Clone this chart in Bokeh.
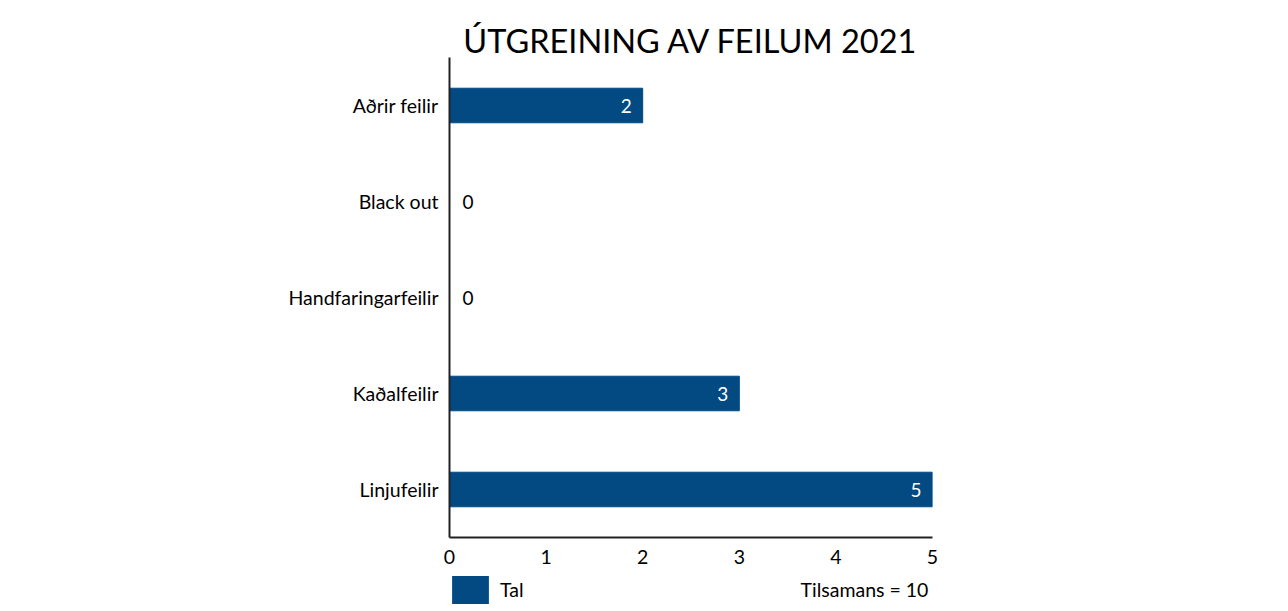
from bokeh.plotting import figure
from bokeh.layouts import column
from bokeh.models import (ColumnDataSource, FactorRange, Range1d, FixedTicker, LabelSet,
                          Legend, LegendItem)
from bokeh.core.properties import value
from bokeh.embed import file_html
from bokeh.resources import INLINE

# ---- data ----
categories = ["Aðrir feilir", "Black out", "Handfaringarfeilir", "Kaðalfeilir", "Linjufeilir"]
values = [2, 0, 0, 3, 5]
x_ticks = [0, 1, 2, 3, 4, 5]
series_name = "Tal"
title_text = "ÚTGREINING AV FEILUM 2021"

BAR = "#034a83"
FONT = "Lato"

total = sum(values)

p = figure(width=1272, height=570, output_backend="svg", toolbar_location=None,
           y_range=FactorRange(*list(reversed(categories))),
           x_range=Range1d(0, 5),
           min_border_left=449, min_border_right=340, min_border_top=57, min_border_bottom=33,
           border_fill_color="white", background_fill_color="white", outline_line_color=None)

src = ColumnDataSource(dict(cat=categories, val=values))
r = p.hbar(y="cat", right="val", left=0, height=0.36, source=src, color=BAR)

inside = ColumnDataSource(dict(cat=[c for c, v in zip(categories, values) if v > 0],
                               val=[v for v in values if v > 0],
                               lab=[str(v) for v in values if v > 0]))
zeros = ColumnDataSource(dict(cat=[c for c, v in zip(categories, values) if v == 0],
                              val=[v for v in values if v == 0],
                              lab=[str(v) for v in values if v == 0]))
p.add_layout(LabelSet(x="val", y="cat", text="lab", source=inside, x_offset=-11,
                      text_align="right", text_baseline="middle", text_color="white",
                      text_font=value(FONT), text_font_size="19px"))
p.add_layout(LabelSet(x="val", y="cat", text="lab", source=zeros, x_offset=13,
                      text_align="left", text_baseline="middle", text_color="black",
                      text_font=value(FONT), text_font_size="19px"))

p.title.text = title_text
p.title.align = "center"
p.title.text_font = FONT
p.title.text_font_size = "32.5px"
p.title.text_font_style = "normal"
p.title.text_color = "black"
p.title.standoff = -5

p.xgrid.grid_line_color = None
p.ygrid.grid_line_color = None

for ax in (p.xaxis[0], p.yaxis[0]):
    ax.axis_line_color = "#222222"
    ax.axis_line_width = 2
    ax.major_tick_line_color = None
    ax.minor_tick_line_color = None
    ax.major_label_text_font = FONT
    ax.major_label_text_font_size = "19.5px"
    ax.major_label_text_color = "black"
p.xaxis.ticker = FixedTicker(ticks=x_ticks)
p.xaxis.major_label_standoff = 6
p.yaxis.major_label_standoff = 5

# ---- legend strip ----
p2 = figure(width=1272, height=37, output_backend="svg", toolbar_location=None,
            x_range=Range1d(0, 1), y_range=Range1d(0, 1),
            min_border_left=449, min_border_right=340, min_border_top=0, min_border_bottom=0,
            border_fill_color="white", background_fill_color="white", outline_line_color=None)
p2.axis.visible = False
p2.grid.grid_line_color = None
# renderers that only feed the legend (their single mark lies outside the view)
r_tal = p2.hbar(y=[-5], right=[1], left=0, height=0.5, fill_color=BAR, line_alpha=0)
r_total = p2.hbar(y=[-5], right=[1], left=0, height=0.5, fill_alpha=0, line_alpha=0)

legend = Legend(items=[LegendItem(label=series_name, renderers=[r_tal]),
                       LegendItem(label=f"Tilsamans = {total}", renderers=[r_total])],
                location=(-2, 0), orientation="horizontal",
                glyph_width=46, glyph_height=35, label_standoff=7, spacing=224,
                label_text_font=FONT, label_text_font_size="19.5px",
                label_text_color="black", padding=0, margin=0,
                border_line_alpha=0, background_fill_alpha=0)
p2.add_layout(legend)

layout = column(p, p2, spacing=0)
open("out.html", "w").write(file_html(layout, INLINE))
